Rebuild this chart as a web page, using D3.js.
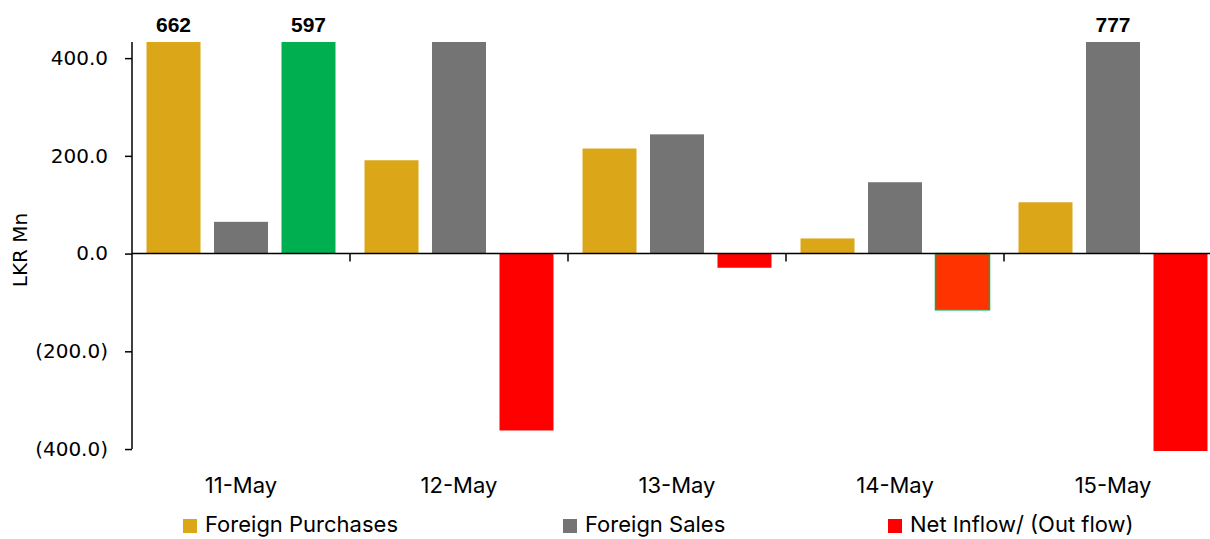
<!DOCTYPE html>
<html>
<head>
<meta charset="utf-8">
<script src="https://cdn.jsdelivr.net/npm/d3@7"></script>
<style>
  body { margin: 0; background: #fff; }
  svg { display: block; }
</style>
</head>
<body>
<div id="chart"></div>
<script>
// data (LKR Mn)
var dates = ["11-May", "12-May", "13-May", "14-May", "15-May"];
var purchases = [662, 191, 215, 31, 105];
var sales = [65, 553, 244, 146, 777];
var netFlow = [597, -362, -29, -115, -672];
// bars that carry a value label (clipped ones)
var labelled = [["11-May", "purchases"], ["11-May", "net"], ["15-May", "sales"]];
var yTicks = [-400, -200, 0, 200, 400];

var seriesKeys = ["purchases", "sales", "net"];
var seriesNames = ["Foreign Purchases", "Foreign Sales", "Net Inflow/ (Out flow)"];
var colors = { purchases: "#DBA617", sales: "#747474", net: "#FF0000" };

var width = 1210, height = 539;

var svg = d3.select("#chart").append("svg")
    .attr("width", width)
    .attr("height", height);

var rows = dates.map(function(d, i) {
  return { date: d, purchases: purchases[i], sales: sales[i], net: netFlow[i] };
});

// plot runs past the right edge like the original
var x0 = d3.scaleBand()
    .domain(dates)
    .range([132, 1222])
    .padding(0);

var x1 = d3.scaleBand()
    .domain(seriesKeys)
    .range([0, x0.bandwidth()])
    .paddingInner(0.2)
    .paddingOuter(0.215);

var y = d3.scaleLinear()
    .domain([-404, 433])
    .range([451, 42])
    .clamp(true);

function netFill(d) {
  if (d.date === "11-May") return "#00B050";
  if (d.date === "14-May") return "#FF3300";
  return colors.net;
}

// bars
var groups = svg.append("g").selectAll("g")
    .data(rows)
  .enter().append("g")
    .attr("transform", function(d) { return "translate(" + x0(d.date) + ",0)"; });

groups.selectAll("rect")
    .data(function(d) {
      return seriesKeys.map(function(k) { return { date: d.date, key: k, value: d[k] }; });
    })
  .enter().append("rect")
    .attr("x", function(d) { return x1(d.key); })
    .attr("width", x1.bandwidth())
    .attr("y", function(d) { return y(Math.max(0, d.value)); })
    .attr("height", function(d) { return Math.abs(y(d.value) - y(0)); })
    .attr("fill", function(d) { return d.key === "net" ? netFill(d) : colors[d.key]; })
    .attr("stroke", function(d) { return (d.key === "net" && d.date === "14-May") ? "#00B050" : "none"; })
    .attr("stroke-width", 1.5);

// value labels on clipped bars
svg.append("g").selectAll("text")
    .data(labelled)
  .enter().append("text")
    .attr("x", function(d) { return x0(d[0]) + x1(d[1]) + x1.bandwidth() / 2; })
    .attr("y", function(d) {
      var r = rows[dates.indexOf(d[0])];
      return y(r[d[1]]) - 10;
    })
    .attr("text-anchor", "middle")
    .style("font-family", "'Liberation Sans', Arial, sans-serif")
    .style("font-weight", "bold")
    .style("font-size", "21px")
    .text(function(d) { return rows[dates.indexOf(d[0])][d[1]]; });

// y axis
var fmt = d3.format(".1f");
var yAxis = svg.append("g")
    .attr("transform", "translate(132,0)")
    .call(d3.axisLeft(y)
      .tickValues(yTicks)
      .tickSize(7)
      .tickPadding(17)
      .tickFormat(function(d) { return d < 0 ? "(" + fmt(-d) + ")" : fmt(d); }));

yAxis.select(".domain").remove();
yAxis.selectAll(".tick line").attr("stroke", "#000").attr("stroke-width", 1.5);
yAxis.selectAll("text")
    .attr("fill", "#000")
    .style("font-family", "'DejaVu Sans', sans-serif")
    .style("font-size", "20px");

svg.append("line")
    .attr("x1", 132).attr("x2", 132)
    .attr("y1", y(433)).attr("y2", y(-400))
    .attr("stroke", "#000")
    .attr("stroke-width", 1.5);

// zero line with category ticks
svg.append("line")
    .attr("x1", 132).attr("x2", width)
    .attr("y1", y(0)).attr("y2", y(0))
    .attr("stroke", "#000")
    .attr("stroke-width", 1.5);

svg.append("g").selectAll("line")
    .data(dates.slice(1))
  .enter().append("line")
    .attr("x1", function(d) { return x0(d); })
    .attr("x2", function(d) { return x0(d); })
    .attr("y1", y(0))
    .attr("y2", y(0) + 8)
    .attr("stroke", "#000")
    .attr("stroke-width", 1.5);

// category labels
svg.append("g").selectAll("text")
    .data(dates)
  .enter().append("text")
    .attr("x", function(d) { return x0(d) + x0.bandwidth() / 2 - 0; })
    .attr("y", 493)
    .attr("text-anchor", "middle")
    .style("font-family", "Inter, 'Noto Sans', sans-serif")
    .style("font-size", "22px")
    .text(function(d) { return d; });

// y title
svg.append("text")
    .attr("transform", "translate(27,250) rotate(-90)")
    .attr("text-anchor", "middle")
    .style("font-family", "'DejaVu Sans', sans-serif")
    .style("font-size", "20px")
    .text("LKR Mn");

// legend
var legendX = [183, 563, 888];
var legend = svg.append("g").selectAll("g")
    .data(seriesKeys)
  .enter().append("g")
    .attr("transform", function(d, i) { return "translate(" + legendX[i] + ",519)"; });

legend.append("rect")
    .attr("width", 14)
    .attr("height", 14)
    .attr("fill", function(d) { return colors[d]; });

legend.append("text")
    .attr("x", 22)
    .attr("y", 13)
    .style("font-family", "Inter, 'Noto Sans', sans-serif")
    .style("font-size", "22px")
    .text(function(d, i) { return seriesNames[i]; });
</script>
</body>
</html>
